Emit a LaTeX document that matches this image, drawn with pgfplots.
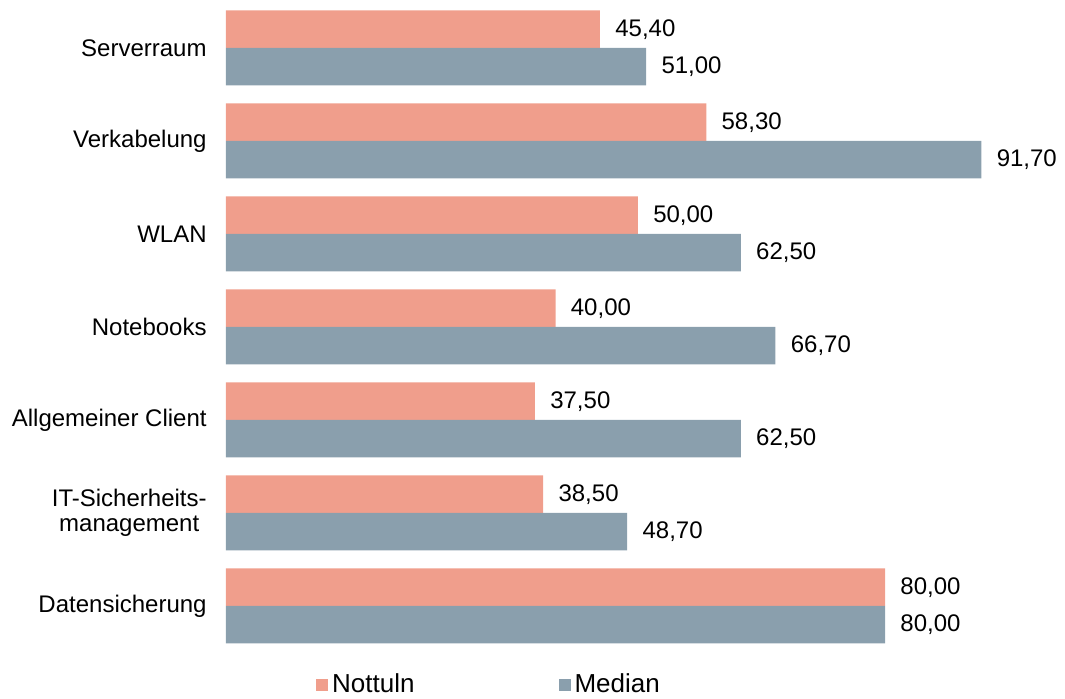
\documentclass[border=0pt]{standalone}
\usepackage{fontspec}
\setmainfont{Liberation Sans}
\usepackage{pgfplots}
\pgfplotsset{compat=1.18}
\definecolor{cNot}{HTML}{F09E8C}
\definecolor{cMed}{HTML}{8A9FAD}
\pgfplotsset{sqleg/.style={legend image code/.code={\fill[##1,draw=none] (0pt,-3pt) rectangle (6pt,3pt);}}}
\begin{document}
\begin{tikzpicture}
\begin{axis}[
  at={(0,0)}, anchor=south west,
  scale only axis, width=411.875pt, height=325.5pt,
  xbar, bar width=18.75pt,
  xmin=0, xmax=100, ymin=-0.5, ymax=6.5,
  hide x axis,
  axis line style={draw=none},
  ytick={0,...,6},
  yticklabels={Datensicherung, {IT-Sicherheits-\\management}, Allgemeiner Client, Notebooks, WLAN, Verkabelung, Serverraum},
  major tick length=0pt,
  y tick label style={font=\fontsize{12}{12.5}\selectfont, align=center, inner sep=0pt, xshift=-9.5pt},
  nodes near coords={\pgfmathprintnumber[fixed,fixed zerofill,precision=2,use comma,assume math mode=true]{\pgfplotspointmeta}},
  nodes near coords style={font=\fontsize{12}{14}\selectfont, anchor=west, inner sep=0pt, xshift=7.5pt, text=black},
  legend style={at={(0.3205,-0.05)}, anchor=center, draw=none, fill=none, legend columns=2, font=\fontsize{13}{15}\selectfont, /tikz/every even column/.append style={column sep=70pt}},
]
\addplot[xbar, fill=cNot, draw=none, bar shift=9.375pt, sqleg] coordinates {
(80.0,0) (38.5,1) (37.5,2) (40.0,3) (50.0,4) (58.3,5) (45.4,6)};
\addlegendentry{Nottuln}
\addplot[xbar, fill=cMed, draw=none, bar shift=-9.375pt, sqleg] coordinates {
(80.0,0) (48.7,1) (62.5,2) (66.7,3) (62.5,4) (91.7,5) (51.0,6)};
\addlegendentry{Median}
\end{axis}
\pgfresetboundingbox
\path (-113pt,-23.25pt) rectangle (419.5pt,326.25pt);
\end{tikzpicture}
\end{document}
